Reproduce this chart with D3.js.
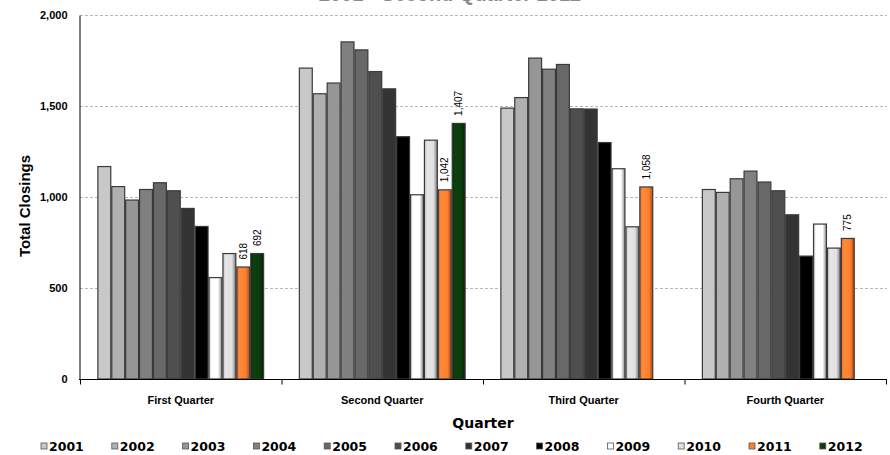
<!DOCTYPE html>
<html><head><meta charset="utf-8">
<script src="https://cdn.jsdelivr.net/npm/d3@7"></script>
<style>body{margin:0;background:#fff}svg{display:block}</style>
</head><body>
<svg id="c" width="890" height="455"></svg>
<script>
const quarters = ["First Quarter","Second Quarter","Third Quarter","Fourth Quarter"];
const years = ["2001","2002","2003","2004","2005","2006","2007","2008","2009","2010","2011","2012"];
const v2001 = [1170,1711,1491,1044];
const v2002 = [1060,1570,1549,1028];
const v2003 = [986,1629,1766,1103];
const v2004 = [1044,1855,1705,1145];
const v2005 = [1081,1811,1731,1085];
const v2006 = [1037,1692,1487,1037];
const v2007 = [940,1597,1486,905];
const v2008 = [841,1334,1302,678];
const v2009 = [560,1015,1158,854];
const v2010 = [692,1315,839,722];
const v2011 = [618,1042,1058,775];
const v2012 = [692,1407,null,null];
const seriesValues = [v2001,v2002,v2003,v2004,v2005,v2006,v2007,v2008,v2009,v2010,v2011,v2012];
const labelledYears = ["2011","2012"];
const yTicks = [0,500,1000,1500,2000];
const colors = ["#c8c8c8","#b0b0b0","#969696","#808080","#686868","#4f4f4f","#333333","#000000","#ffffff","#e0e0e0","#ff7f2e","#0b3b0b"];
const gradYears = {"2009":["#cfcfcf","#ffffff","#ffffff","#8a8a8a"],"2010":["#bdbdbd","#e6e6e6","#e0e0e0","#7a7a7a"],"2011":["#e06a20","#ff8a3c","#ff7f2e","#b04a10"],"2012":["#082a08","#0e400e","#0b3b0b","#062006"]};

const svg = d3.select("#c");
const defs = svg.append("defs");
Object.entries(gradYears).forEach(([y,st])=>{
  const g = defs.append("linearGradient").attr("id","g"+y).attr("x1","0").attr("x2","1").attr("y1","0").attr("y2","0");
  [0,0.2,0.7,1].forEach((o,i)=>g.append("stop").attr("offset",o).attr("stop-color",st[i]));
});
const fillFor = (y,i)=> gradYears[y] ? `url(#g${y})` : colors[i];

const x0 = d3.scaleBand().domain(quarters).range([80,886]).padding(0);
const x1 = d3.scaleBand().domain(years).range([0,x0.bandwidth()]).paddingInner(0).paddingOuter(1.25);
const y = d3.scaleLinear().domain([0,2000]).range([379,15]);

// title (mostly cut off at top, as in the reference)
svg.append("text").attr("x",450).attr("y",1).attr("text-anchor","middle")
  .attr("font-family","Liberation Sans, Arial, sans-serif").attr("font-weight","bold").attr("font-size",20)
  .attr("fill","#8a8a8a").text("2001 - Second Quarter 2012");

// gridlines
svg.append("g").selectAll("line").data(yTicks.filter(t=>t>0)).join("line")
  .attr("x1",80).attr("x2",887).attr("y1",d=>y(d)+0.5).attr("y2",d=>y(d)+0.5)
  .attr("stroke","#b8b8b8").attr("stroke-width",1).attr("stroke-dasharray","3,2");

// y axis
const yAxis = svg.append("g").attr("transform","translate(79.5,0)")
  .call(d3.axisLeft(y).tickValues(yTicks).tickSize(0).tickPadding(12).tickFormat(d3.format(",")));
yAxis.select(".domain").attr("stroke","#000");
yAxis.selectAll("text").attr("font-family","Liberation Sans, Arial, sans-serif").attr("font-weight","bold").attr("font-size",11).attr("fill","#000");

// bars
const groups = svg.append("g").selectAll("g").data(quarters).join("g")
  .attr("transform",q=>`translate(${x0(q)},0)`);
groups.selectAll("rect").data((q,qi)=>years.map((yr,si)=>({yr,si,v:seriesValues[si][qi]})).filter(d=>d.v!=null)).join("rect")
  .attr("x",d=>x1(d.yr)+0.5).attr("width",x1.bandwidth()-1)
  .attr("y",d=>y(d.v)+0.5).attr("height",d=>y(0)-y(d.v)-0.5)
  .attr("fill",d=>fillFor(d.yr,d.si)).attr("stroke","#3a3a3a").attr("stroke-width",1.2);

// data labels
groups.selectAll("text.lbl").data((q,qi)=>years.map((yr,si)=>({yr,si,v:seriesValues[si][qi]})).filter(d=>d.v!=null && labelledYears.includes(d.yr))).join("text")
  .attr("class","lbl")
  .attr("transform",d=>`translate(${x1(d.yr)+x1.bandwidth()/2+3.5},${y(d.v)-7}) rotate(-90)`)
  .attr("font-family","Liberation Sans, Arial, sans-serif").attr("font-size",10).attr("fill","#000")
  .text(d=>d3.format(",")(d.v));

// x axis
const xAxis = svg.append("g").attr("transform","translate(0,379.5)");
xAxis.append("line").attr("x1",79).attr("x2",887).attr("stroke","#000");
xAxis.selectAll("line.tk").data(quarters.map(q=>x0(q)).concat([x0.range()[1]])).join("line").attr("class","tk")
  .attr("x1",d=>d+0.5).attr("x2",d=>d+0.5).attr("y1",0).attr("y2",5).attr("stroke","#000");
xAxis.selectAll("text").data(quarters).join("text")
  .attr("x",q=>x0(q)+x0.bandwidth()/2).attr("y",24).attr("text-anchor","middle")
  .attr("font-family","Liberation Sans, Arial, sans-serif").attr("font-weight","bold").attr("font-size",11).text(q=>q);

// axis titles
svg.append("text").attr("x",483).attr("y",428).attr("text-anchor","middle")
  .attr("font-family","DejaVu Sans, sans-serif").attr("font-weight","bold").attr("font-size",14).text("Quarter");
svg.append("text").attr("transform","translate(30,206) rotate(-90)").attr("text-anchor","middle")
  .attr("font-family","Liberation Sans, Arial, sans-serif").attr("font-weight","bold").attr("font-size",15).text("Total Closings");

// legend
const leg = svg.append("g").selectAll("g").data(years).join("g")
  .attr("transform",(d,i)=>`translate(${41+i*70.8},446)`);
leg.append("rect").attr("x",0).attr("y",-3).attr("width",6).attr("height",6)
  .attr("fill",(d,i)=>colors[i]).attr("stroke","#555").attr("stroke-width",0.8);
leg.append("text").attr("x",8).attr("y",4.5)
  .attr("font-family","DejaVu Sans, sans-serif").attr("font-weight","bold").attr("font-size",12.5).text(d=>d);
</script>
</body></html>
